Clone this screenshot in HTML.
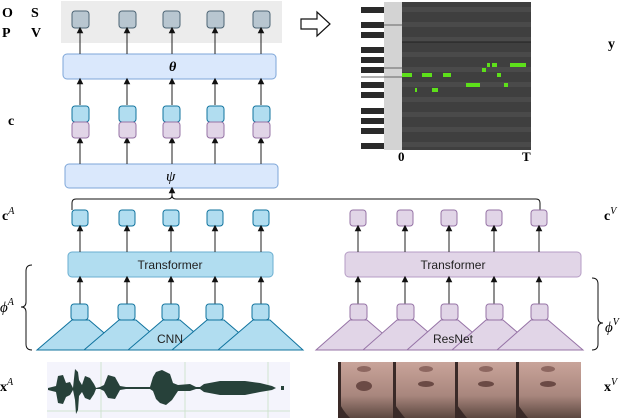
<!DOCTYPE html>
<html><head><meta charset="utf-8"><style>
html,body{margin:0;padding:0;background:#fff;}
svg{display:block;font-family:"Liberation Serif",serif;}
</style></head><body>
<svg width="624" height="418" viewBox="0 0 624 418" xmlns="http://www.w3.org/2000/svg">
<defs>
<marker id="ar" markerWidth="6" markerHeight="6" refX="3" refY="3" orient="auto"><path d="M0,0 L6,3 L0,6 z" fill="#111"/></marker>
</defs>
<!-- top grey -->
<rect x="61" y="1" width="221" height="42" fill="#ececec"/>
<g fill="#b8c6d0" stroke="#4c6474" stroke-width="1">
<rect x="72" y="11" width="17" height="17" rx="3"/>
<rect x="119" y="11" width="17" height="17" rx="3"/>
<rect x="163" y="11" width="17" height="17" rx="3"/>
<rect x="207" y="11" width="17" height="17" rx="3"/>
<rect x="253" y="11" width="17" height="17" rx="3"/>
</g>
<text x="2" y="17" font-weight="bold" font-size="14">O</text>
<text x="31" y="17" font-weight="bold" font-size="14">S</text>
<text x="2" y="37" font-weight="bold" font-size="14">P</text>
<text x="31" y="37" font-weight="bold" font-size="14">V</text>
<text x="8" y="125" font-weight="bold" font-size="14">c</text>
<!-- theta -->
<rect x="63" y="54" width="213" height="25" rx="4" fill="#dae8fc" stroke="#7ea6d8"/>
<text x="169" y="71" font-style="italic" font-weight="bold" font-size="14">θ</text>
<!-- psi -->
<rect x="65" y="164" width="213" height="24" rx="4" fill="#dae8fc" stroke="#7ea6d8"/>
<text x="166" y="181" font-style="italic" font-size="15">ψ</text>
<g stroke="#333" stroke-width="1.1" marker-end="url(#ar)">
<line x1="80" y1="54" x2="80" y2="30"/><line x1="127" y1="54" x2="127" y2="30"/><line x1="172" y1="54" x2="172" y2="30"/><line x1="215" y1="54" x2="215" y2="30"/><line x1="261" y1="54" x2="261" y2="30"/>
<line x1="80" y1="105" x2="80" y2="81"/><line x1="127" y1="105" x2="127" y2="81"/><line x1="172" y1="105" x2="172" y2="81"/><line x1="215" y1="105" x2="215" y2="81"/><line x1="261" y1="105" x2="261" y2="81"/>
<line x1="80" y1="164" x2="80" y2="140"/><line x1="127" y1="164" x2="127" y2="140"/><line x1="172" y1="164" x2="172" y2="140"/><line x1="215" y1="164" x2="215" y2="140"/><line x1="261" y1="164" x2="261" y2="140"/>
<line x1="172" y1="198" x2="172" y2="190"/>
</g>
<g stroke-width="1">
<g fill="#b1ddf0" stroke="#10739e">
<rect x="72" y="106" width="17" height="16" rx="3"/><rect x="119" y="106" width="17" height="16" rx="3"/><rect x="163" y="106" width="17" height="16" rx="3"/><rect x="207" y="106" width="17" height="16" rx="3"/><rect x="253" y="106" width="17" height="16" rx="3"/>
</g>
<g fill="#e1d5e7" stroke="#9673a6">
<rect x="72" y="122" width="17" height="16" rx="3"/><rect x="119" y="122" width="17" height="16" rx="3"/><rect x="163" y="122" width="17" height="16" rx="3"/><rect x="207" y="122" width="17" height="16" rx="3"/><rect x="253" y="122" width="17" height="16" rx="3"/>
</g>
</g>
<!-- bracket -->
<path d="M72,210 L72,203 Q72,199 76,199 L168,199 Q172,199 172,195 Q172,199 176,199 L536,199 Q540,199 540,203 L540,210" fill="none" stroke="#111" stroke-width="1"/>
<!-- arrow hollow -->
<path d="M301,19 L317,19 L317,12 L330,24 L317,36 L317,29 L301,29 Z" fill="#fff" stroke="#111" stroke-width="1.2"/>
<!-- piano roll -->
<rect x="361" y="2" width="23" height="148" fill="#fff"/>
<rect x="384" y="2" width="18" height="148" fill="#d3d3d3"/>
<rect x="402" y="2" width="129" height="148" fill="#3f3f3f"/>
<g fill="#4a4a4a">
<rect x="402" y="7" width="129" height="5"/><rect x="402" y="22" width="129" height="5"/><rect x="402" y="37" width="129" height="5"/><rect x="402" y="52" width="129" height="5"/><rect x="402" y="67" width="129" height="5"/><rect x="402" y="82" width="129" height="5"/><rect x="402" y="97" width="129" height="5"/><rect x="402" y="112" width="129" height="5"/><rect x="402" y="127" width="129" height="5"/><rect x="402" y="142" width="129" height="5"/>
</g>
<g fill="#2a2a2a">
<rect x="361" y="7" width="23" height="6"/><rect x="361" y="22" width="23" height="6"/><rect x="361" y="32" width="23" height="6"/><rect x="361" y="47" width="23" height="6"/><rect x="361" y="57" width="23" height="6"/><rect x="361" y="67" width="23" height="6"/><rect x="361" y="82" width="23" height="6"/><rect x="361" y="92" width="23" height="6"/><rect x="361" y="108" width="23" height="6"/><rect x="361" y="118" width="23" height="6"/><rect x="361" y="128" width="23" height="6"/><rect x="361" y="143" width="23" height="6"/>
</g>
<line x1="402" y1="42" x2="531" y2="42" stroke="#222"/>
<line x1="384" y1="25" x2="402" y2="25" stroke="#666"/>
<line x1="384" y1="68" x2="402" y2="68" stroke="#666"/>
<line x1="361" y1="77" x2="402" y2="77" stroke="#666"/>
<g fill="#5de01a">
<rect x="402" y="73" width="10" height="4"/><rect x="422" y="73" width="10" height="4"/><rect x="443" y="73" width="8" height="4"/><rect x="466" y="83" width="14" height="4"/><rect x="415" y="88" width="2" height="4"/><rect x="432" y="88" width="6" height="4"/><rect x="482" y="68" width="4" height="4"/><rect x="487" y="63" width="3" height="4"/><rect x="492" y="63" width="5" height="4"/><rect x="510" y="63" width="16" height="4"/><rect x="497" y="73" width="4" height="4"/><rect x="504" y="83" width="4" height="4"/>
</g>
<text x="398" y="161" font-weight="bold" font-size="13">0</text>
<text x="522" y="161" font-weight="bold" font-size="13">T</text>
<text x="608" y="48" font-weight="bold" font-size="14">y</text>
<!-- cA cV -->
<text x="2" y="220" font-weight="bold" font-size="14">c<tspan font-style="italic" font-weight="normal" font-size="10" dy="-6">A</tspan></text>
<text x="604" y="220" font-weight="bold" font-size="14">c<tspan font-style="italic" font-weight="normal" font-size="10" dy="-6">V</tspan></text>
<g fill="#b1ddf0" stroke="#10739e">
<rect x="72" y="210" width="16" height="16" rx="3"/><rect x="119" y="210" width="16" height="16" rx="3"/><rect x="163" y="210" width="16" height="16" rx="3"/><rect x="207" y="210" width="16" height="16" rx="3"/><rect x="253" y="210" width="16" height="16" rx="3"/>
</g>
<g fill="#e1d5e7" stroke="#9673a6">
<rect x="350" y="210" width="16" height="16" rx="3"/><rect x="397" y="210" width="16" height="16" rx="3"/><rect x="441" y="210" width="16" height="16" rx="3"/><rect x="486" y="210" width="16" height="16" rx="3"/><rect x="531" y="210" width="16" height="16" rx="3"/>
</g>
<!-- Transformers -->
<rect x="68" y="252" width="205" height="25" rx="4" fill="#b1ddf0" stroke="#6aaed0"/>
<text x="170" y="269" text-anchor="middle" font-family="Liberation Sans,sans-serif" font-size="12" fill="#222">Transformer</text>
<rect x="345" y="252" width="236" height="25" rx="4" fill="#e1d5e7" stroke="#b59cc4"/>
<text x="453" y="269" text-anchor="middle" font-family="Liberation Sans,sans-serif" font-size="12" fill="#222">Transformer</text>
<g stroke="#333" stroke-width="1.1" marker-end="url(#ar)">
<line x1="80" y1="252" x2="80" y2="228"/><line x1="127" y1="252" x2="127" y2="228"/><line x1="171" y1="252" x2="171" y2="228"/><line x1="215" y1="252" x2="215" y2="228"/><line x1="261" y1="252" x2="261" y2="228"/>
<line x1="358" y1="252" x2="358" y2="228"/><line x1="405" y1="252" x2="405" y2="228"/><line x1="449" y1="252" x2="449" y2="228"/><line x1="494" y1="252" x2="494" y2="228"/><line x1="539" y1="252" x2="539" y2="228"/>
<line x1="80" y1="304" x2="80" y2="279"/><line x1="127" y1="304" x2="127" y2="279"/><line x1="171" y1="304" x2="171" y2="279"/><line x1="215" y1="304" x2="215" y2="279"/><line x1="261" y1="304" x2="261" y2="279"/>
<line x1="358" y1="304" x2="358" y2="279"/><line x1="405" y1="304" x2="405" y2="279"/><line x1="449" y1="304" x2="449" y2="279"/><line x1="494" y1="304" x2="494" y2="279"/><line x1="539" y1="304" x2="539" y2="279"/>
</g>
<!-- pyramids A -->
<g fill="#b1ddf0" stroke="#10739e" stroke-width="1">
<path d="M72,320 L89,320 L124,350 L37,350 Z"/><rect x="71" y="304" width="17" height="16" rx="3"/>
<path d="M119,320 L136,320 L171,350 L84,350 Z"/><rect x="118" y="304" width="17" height="16" rx="3"/>
<path d="M163,320 L180,320 L215,350 L128,350 Z"/><rect x="162" y="304" width="17" height="16" rx="3"/>
<path d="M207,320 L224,320 L259,350 L172,350 Z"/><rect x="206" y="304" width="17" height="16" rx="3"/>
<path d="M253,320 L270,320 L303,350 L218,350 Z"/><rect x="252" y="304" width="17" height="16" rx="3"/>
</g>
<text x="170" y="343" text-anchor="middle" font-family="Liberation Sans,sans-serif" font-size="12" fill="#222">CNN</text>
<g fill="#e1d5e7" stroke="#9673a6" stroke-width="1">
<path d="M350,320 L367,320 L402,350 L316,350 Z"/><rect x="350" y="304" width="17" height="16" rx="3"/>
<path d="M397,320 L414,320 L449,350 L363,350 Z"/><rect x="397" y="304" width="17" height="16" rx="3"/>
<path d="M441,320 L458,320 L493,350 L407,350 Z"/><rect x="441" y="304" width="17" height="16" rx="3"/>
<path d="M486,320 L503,320 L538,350 L452,350 Z"/><rect x="486" y="304" width="17" height="16" rx="3"/>
<path d="M531,320 L548,320 L583,350 L497,350 Z"/><rect x="531" y="304" width="17" height="16" rx="3"/>
</g>
<text x="453" y="343" text-anchor="middle" font-family="Liberation Sans,sans-serif" font-size="12" fill="#222">ResNet</text>
<!-- braces -->
<path d="M32,265 Q26,265 26,271 L26,302 Q26,307 21,307 Q26,307 26,312 L26,344 Q26,350 32,350" fill="none" stroke="#111"/>
<path d="M592,278 Q598,278 598,284 L598,318 Q598,323 603,323 Q598,323 598,328 L598,344 Q598,350 592,350" fill="none" stroke="#111"/>
<text x="0" y="312" font-style="italic" font-size="15">ϕ<tspan font-size="10" dy="-7">A</tspan></text>
<text x="605" y="332" font-style="italic" font-size="15">ϕ<tspan font-size="10" dy="-7">V</tspan></text>
<!-- waveform -->
<rect x="47" y="362" width="243" height="56" fill="#f4f4fc"/>
<g stroke="#cfe3cf"><line x1="101" y1="362" x2="101" y2="418"/><line x1="185" y1="362" x2="185" y2="418"/><line x1="268" y1="362" x2="268" y2="418"/><line x1="47" y1="411" x2="290" y2="411"/></g>
<path d="M48,388 L56,386 L58,376 L63,375 L66,383 L70,382 L73,388 L75,369 L78,372 L79,380 L82,385 L85,376 L90,378 L94,384 L96,388 L100,387 L104,385 L108,375 L115,377 L120,386 L126,387 L140,387 L150,387 L153,377 L156,372 L162,370 L170,374 L173,383 L178,385 L190,384 L196,387 L200,387 L204,384 L220,381 L245,381 L260,383 L272,386 L276,388 L272,390 L260,392 L245,395 L220,395 L204,392 L200,389 L196,389 L190,391 L178,391 L172,400 L166,405 L160,403 L156,399 L153,391 L150,389 L126,389 L120,390 L115,399 L108,398 L104,391 L100,389 L96,389 L94,394 L90,400 L85,398 L82,392 L79,396 L78,410 L76,414 L75,400 L73,390 L70,395 L66,397 L63,404 L58,403 L56,392 L48,390 Z" fill="#27413a"/>
<rect x="281" y="386" width="3" height="4" fill="#27413a"/>
<text x="0" y="391" font-weight="bold" font-size="14">x<tspan font-style="italic" font-weight="normal" font-size="10" dy="-6">A</tspan></text>
<text x="604" y="391" font-weight="bold" font-size="14">x<tspan font-style="italic" font-weight="normal" font-size="10" dy="-6">V</tspan></text>
<!-- faces -->
<defs><linearGradient id="sk" x1="0" y1="0" x2="0" y2="1"><stop offset="0" stop-color="#c9a49a"/><stop offset="0.6" stop-color="#a8867d"/><stop offset="1" stop-color="#5c4740"/></linearGradient></defs>
<rect x="338" y="362" width="243" height="56" fill="url(#sk)"/>
<g fill="#3a2a28">
<rect x="338" y="362" width="3" height="56"/><rect x="393" y="362" width="3" height="56"/><rect x="455" y="362" width="3" height="56"/><rect x="516" y="362" width="3" height="56"/>
<path d="M338,418 L338,400 Q342,410 350,418 Z"/><path d="M393,418 L393,402 Q400,412 405,418 Z"/><path d="M455,418 L455,402 Q462,412 467,418 Z"/><path d="M516,418 L516,402 Q523,412 528,418 Z"/>
</g>
<g fill="#6b4a45"><ellipse cx="364" cy="386" rx="8" ry="5"/><ellipse cx="426" cy="384" rx="8" ry="3"/><ellipse cx="486" cy="384" rx="8" ry="3"/><ellipse cx="548" cy="384" rx="8" ry="3"/></g>
<g fill="#8d6760"><ellipse cx="364" cy="369" rx="7" ry="3"/><ellipse cx="426" cy="369" rx="7" ry="3"/><ellipse cx="486" cy="369" rx="7" ry="3"/><ellipse cx="548" cy="369" rx="7" ry="3"/></g>
</svg>
</body></html>
